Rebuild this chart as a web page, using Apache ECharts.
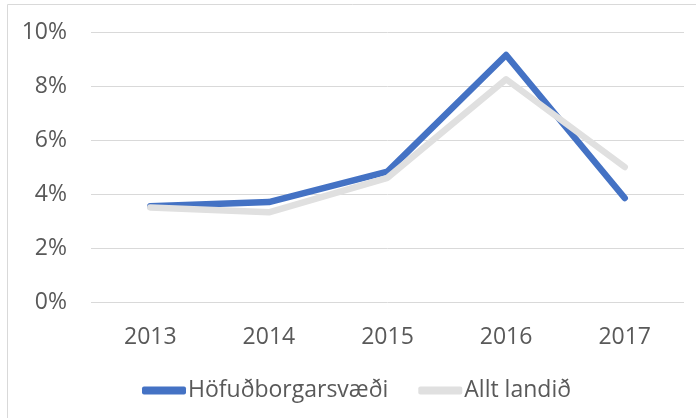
<!DOCTYPE html>
<html>
<head>
<meta charset="utf-8">
<script src="https://cdn.jsdelivr.net/npm/echarts@6/dist/echarts.min.js"></script>
<style>
  html, body { margin: 0; padding: 0; background: #fff; }
  #graph { width: 696px; height: 418px; }
</style>
</head>
<body>
<div id="graph"></div>
<script>
var years = ['2013', '2014', '2015', '2016', '2017'];
var hofudborgarsvaedi = [3.55, 3.7, 4.83, 9.15, 3.85];
var alltLandid = [3.5, 3.32, 4.6, 8.25, 5.0];
var yTicks = { min: 0, max: 10, interval: 2 };

var textColor = '#595959';
var font = '"Open Sans", sans-serif';

var dom = document.getElementById("graph");
var chart = echarts.init(dom);

chart.setOption({
    animation: false,
    graphic: [{
        type: 'rect',
        shape: { x: 7.5, y: 4.5, width: 720, height: 440 },
        style: { fill: 'none', stroke: '#d9d9d9', lineWidth: 1 },
        silent: true
    }],
    grid: { left: 91, right: 12, top: 32, bottom: 116 },
    legend: {
        left: 137,
        top: 374,
        itemWidth: 44,
        itemHeight: 8,
        itemGap: 30,
        icon: 'roundRect',
        textStyle: { color: textColor, fontSize: 23, fontFamily: font, padding: [0, 0, 0, -3] },
        data: ['Höfuðborgarsvæði', 'Allt landið']
    },
    xAxis: {
        type: 'category',
        data: years,
        axisLine: { show: false },
        axisTick: { show: false },
        axisLabel: { color: textColor, fontSize: 23, fontFamily: font, margin: 24 }
    },
    yAxis: {
        type: 'value',
        min: yTicks.min,
        max: yTicks.max,
        interval: yTicks.interval,
        axisLabel: { color: textColor, fontSize: 23, fontFamily: font, margin: 24, formatter: '{value}%' },
        splitLine: { lineStyle: { color: '#d9d9d9', width: 1 } }
    },
    series: [
        {
            name: 'Höfuðborgarsvæði',
            type: 'line',
            data: hofudborgarsvaedi,
            symbol: 'none',
            itemStyle: { color: '#4472c4' },
            lineStyle: { color: '#4472c4', width: 6.5, cap: 'round', join: 'round' }
        },
        {
            name: 'Allt landið',
            type: 'line',
            data: alltLandid,
            symbol: 'none',
            itemStyle: { color: '#e0e0e0' },
            lineStyle: { color: '#e0e0e0', width: 6.5, cap: 'round', join: 'round' }
        }
    ]
});
</script>
</body>
</html>
